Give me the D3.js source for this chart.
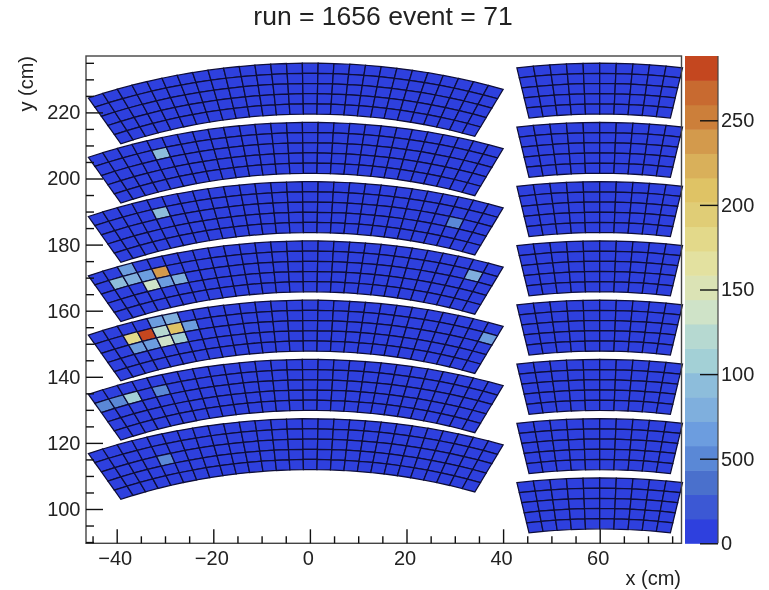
<!DOCTYPE html>
<html lang="en">
<head>
    <meta charset="UTF-8">
    <title>run = 1656 event = 71</title>
    <script src="https://cdnjs.cloudflare.com/ajax/libs/d3/7.8.5/d3.min.js"></script>
    <style>
        html, body { margin: 0; background: #fff; }
        svg { filter: blur(0.45px); }
        text { font-family: "Liberation Sans", sans-serif; fill: #222; }
        .axis line { stroke: #111; stroke-width: 1.4; }
    </style>
</head>
<body>
<script>
    const [width, height] = [769, 590]
    const titleText = 'run = 1656 event = 71'
    const barLevels = 20
    const barMax = 288
    const barTicks = [0, 50, 100, 150, 200, 250]
    const barTickLabels = ['0', '500', '100', '150', '200', '250']
    const barColors = ['#2e40de', '#3c58d4', '#4a70cc', '#5a88d6', '#6c9ddf', '#7fafdd', '#8dbddb', '#a3d0d6',
        '#b6d9d1', '#cfe3c8', '#dbe3b5', '#e3e1a0', '#e3d98a', '#e0cd76', '#dfc365', '#d9b05a', '#d39a4c', '#cc7f3a', '#c86a30', '#c4471f']
    const leftOffsets = [0, 1, 2, 3, 4, 5, 6]
    const rightOffsets = [0, 1, 2, 3, 4, 5, 6, 7]
    const hotModules = [1, 2, 2, 3, 3, 3, 3, 3, 3, 3, 3, 3, 4, 4, 4, 4, 4, 4, 4, 4, 4, 4, 4, 4, 5, 5, 5, 5, 6]
    const hotCols = [4, 4, 24, 25, 2, 4, 3, 2, 1, 3, 4, 5, 4, 5, 6, 5, 4, 3, 2, 5, 4, 3, 2, 26, 2, 1, 0, 4, 4]
    const hotRows = [1, 1, 2, 1, 0, 1, 1, 1, 1, 2, 2, 2, 0, 0, 1, 1, 1, 1, 1, 2, 2, 2, 2, 1, 1, 1, 1, 1, 2]
    const hotValues = [90, 90, 55, 75, 70, 240, 70, 80, 95, 140, 65, 80, 60, 75, 70, 205, 120, 280, 175, 115, 130, 65, 70, 60, 105, 55, 50, 45, 50]

    // detector geometry, in cm and degrees
    const rOuter = 105, rInner = 89.6, topCentre = 129.9, pitch = 17.93, rows = 5
    const leftBlock = {cx: 0, from: -25.9, to: 22.4, cols: 27}
    const rightBlock = {cx: 60, from: -9.4, to: 9.4, cols: 10}

    const x = d3.scaleLinear().domain([-40, 60]).range([116.7, 599.7])
    const y = d3.scaleLinear().domain([100, 220]).range([509, 112.4])
    const barY = d3.scaleLinear().domain([0, 50]).range([543.3, 458.7])
    const color = d3.scaleQuantize().domain([0, barMax]).range(barColors)
    const [frameL, frameR, frameT, frameB] = [86, 681.5, 56, 543.3]

    const svg = d3.select('body').append('svg')
        .attr('width', width).attr('height', height)

    const point = (block, m, r, deg) => {
        const a = deg * Math.PI / 180
        return [x(block.cx + r * Math.sin(a)), y(topCentre - pitch * m + r * Math.cos(a))]
    }

    const drawModule = (block, m, blockName) => {
        const dA = (block.to - block.from) / block.cols
        const dR = (rOuter - rInner) / rows
        const cells = d3.cross(d3.range(block.cols), d3.range(rows))
        svg.append('g').selectAll('path').data(cells).join('path')
            .attr('d', ([c, r]) => {
                const a0 = block.from + c * dA, a1 = a0 + dA
                const r0 = rOuter - r * dR, r1 = r0 - dR
                return 'M' + [point(block, m, r0, a0), point(block, m, r0, a1), point(block, m, r1, a1), point(block, m, r1, a0)].join('L') + 'Z'
            })
            .attr('fill', ([c, r]) => {
                if (blockName !== 'left') return barColors[0]
                const i = hotModules.findIndex((h, k) => h === m && hotCols[k] === c && hotRows[k] === r)
                return i < 0 ? barColors[0] : color(hotValues[i])
            })
            .attr('stroke', '#0e0e38')
            .attr('stroke-width', 1.25)
    }
    leftOffsets.forEach(m => drawModule(leftBlock, m, 'left'))
    rightOffsets.forEach(m => drawModule(rightBlock, m, 'right'))

    // frame
    svg.append('rect').attr('x', frameL).attr('y', frameT)
        .attr('width', frameR - frameL).attr('height', frameB - frameT)
        .attr('fill', 'none').attr('stroke', '#444').attr('stroke-width', 1.4)

    // x axis: major ticks every 20, minor every 5
    const xTicks = d3.range(-45, 76, 5)
    const xAxis = d3.axisBottom(x).tickValues(xTicks).tickSize(0).tickPadding(8)
        .tickFormat(d => d % 20 === 0 ? String(d).replace('-', '\u2212') : '')
    const gx = svg.append('g').attr('class', 'axis').attr('transform', `translate(0, ${frameB})`).call(xAxis)
    gx.select('.domain').remove()
    gx.selectAll('.tick line').attr('y2', d => d % 20 === 0 ? -14 : -7)
    gx.selectAll('.tick text').attr('font-size', 20).attr('dx', -2)

    // y axis
    const yTicks = d3.range(90, 236, 5)
    const yAxis = d3.axisLeft(y).tickValues(yTicks).tickSize(0).tickPadding(5.5)
        .tickFormat(d => d % 20 === 0 ? d : '')
    const gy = svg.append('g').attr('class', 'axis').attr('transform', `translate(${frameL}, 0)`).call(yAxis)
    gy.select('.domain').remove()
    gy.selectAll('.tick line').attr('x2', d => d % 20 === 0 ? 17 : 8)
    gy.selectAll('.tick text').attr('font-size', 20)

    // colour bar
    const bandH = (frameB - frameT) / barLevels
    svg.append('g').selectAll('rect').data(barColors).join('rect')
        .attr('x', 685).attr('width', 33)
        .attr('y', (d, i) => frameB - (i + 1) * bandH)
        .attr('height', bandH + 0.5)
        .attr('fill', d => d)
    svg.append('path').attr('d', `M718,${frameT}V${frameB}`).attr('stroke', '#444').attr('stroke-width', 1.2)
    const barAxis = d3.axisRight(barY).tickValues(barTicks).tickSize(0).tickPadding(3)
        .tickFormat((d, i) => barTickLabels[i])
    const gb = svg.append('g').attr('class', 'axis').attr('transform', 'translate(718, 0)').call(barAxis)
    gb.select('.domain').remove()
    gb.selectAll('.tick line').attr('x2', -18)
    gb.selectAll('.tick text').attr('font-size', 20)

    // titles
    svg.append('text').attr('x', 383).attr('y', 25).attr('text-anchor', 'middle').attr('font-size', 26.5).text(titleText)
    svg.append('text').attr('x', 681).attr('y', 585).attr('text-anchor', 'end').attr('font-size', 20).text('x (cm)')
    svg.append('text').attr('transform', 'translate(33, 56) rotate(-90)').attr('text-anchor', 'end').attr('font-size', 20).text('y (cm)')
</script>
</body>
</html>
